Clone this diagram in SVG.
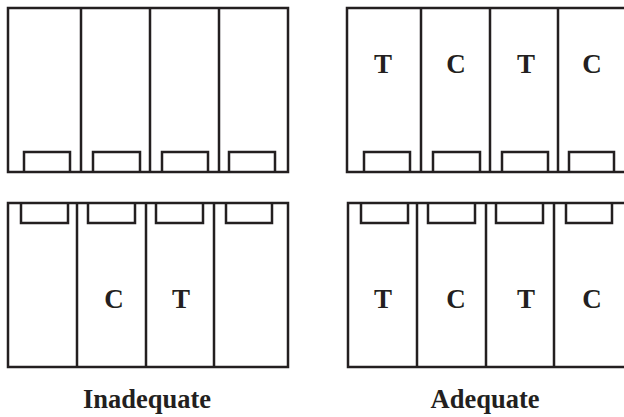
<svg xmlns="http://www.w3.org/2000/svg" width="624" height="417" viewBox="0 0 624 417">
<style>
.ln{fill:none;stroke:#231f20;stroke-width:2.5}
.lt{font-family:"Liberation Serif",serif;font-weight:bold;font-size:27px;fill:#231f20;text-anchor:middle}
.cap{font-family:"Liberation Serif",serif;font-weight:bold;font-size:26.5px;fill:#231f20;text-anchor:middle}
</style>
<rect width="624" height="417" fill="#fff"/>
<g id="inadequate-top">
<rect class="ln" x="8" y="8" width="280" height="164"/>
<path class="ln" d="M81 8V172M150 8V172M219 8V172"/>
<path class="ln" d="M24 172V152H70V172M93 172V152H140V172M162 172V152H208V172M229 172V152H275V172"/>
</g>
<g id="adequate-top">
<rect class="ln" x="347" y="8" width="284" height="164"/>
<path class="ln" d="M421 8V172M490 8V172M558 8V172"/>
<path class="ln" d="M364 172V152H410V172M433 172V152H480V172M502 172V152H548V172M569 172V152H614V172"/>
<text class="lt" x="383" y="73">T</text>
<text class="lt" x="456" y="73">C</text>
<text class="lt" x="526" y="73">T</text>
<text class="lt" x="592" y="73">C</text>
</g>
<g id="inadequate-bottom">
<rect class="ln" x="8" y="203" width="280" height="164"/>
<path class="ln" d="M77 203V367M146 203V367M214 203V367"/>
<path class="ln" d="M21 203V223H68V203M88 203V223H135V203M156 203V223H203V203M226 203V223H272V203"/>
<text class="lt" x="114" y="308">C</text>
<text class="lt" x="181" y="308">T</text>
</g>
<g id="adequate-bottom">
<rect class="ln" x="348" y="203" width="284" height="164"/>
<path class="ln" d="M417 203V367M486 203V367M554 203V367"/>
<path class="ln" d="M361 203V223H408V203M428 203V223H475V203M496 203V223H543V203M566 203V223H612V203"/>
<text class="lt" x="383" y="308">T</text>
<text class="lt" x="456" y="308">C</text>
<text class="lt" x="526" y="308">T</text>
<text class="lt" x="592" y="308">C</text>
</g>
<g id="labels">
<text class="cap" x="147" y="408">Inadequate</text>
<text class="cap" x="485" y="408">Adequate</text>
</g>
</svg>
